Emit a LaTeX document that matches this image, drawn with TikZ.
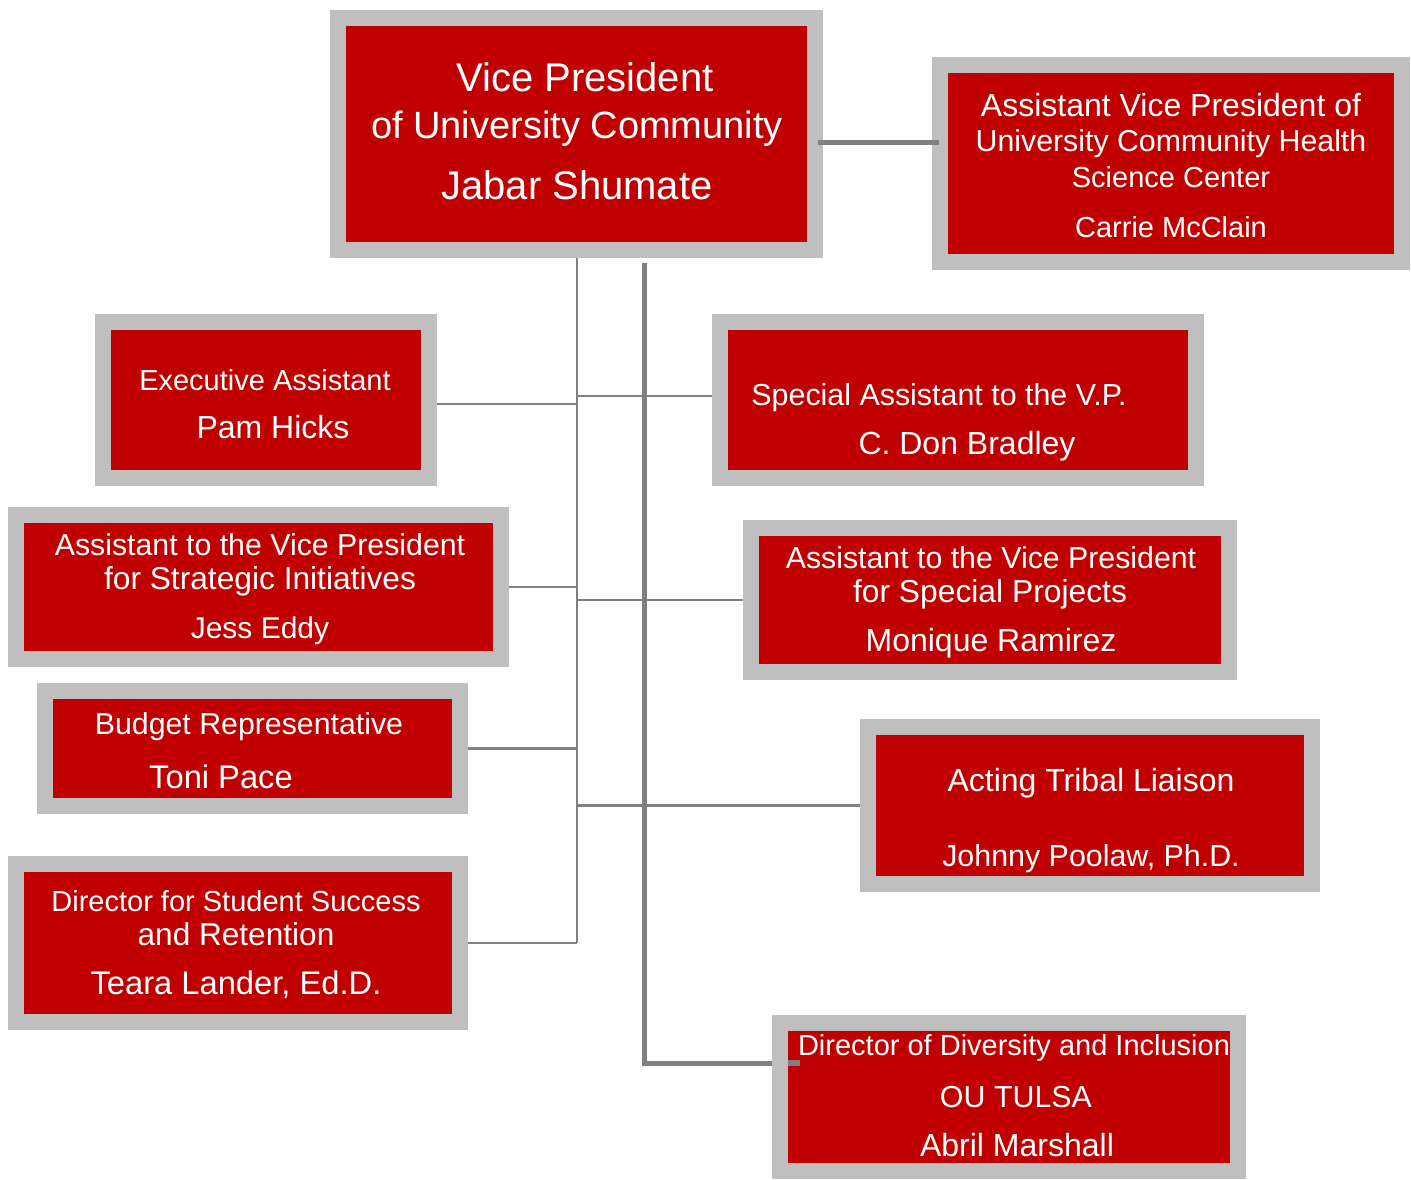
\documentclass[tikz,border=0pt]{standalone}
\usepackage{fontspec}
\setmainfont{Liberation Sans}
\usetikzlibrary{backgrounds}
\definecolor{boxred}{HTML}{C00000}
\definecolor{boxgray}{HTML}{BFBFBF}
\definecolor{linegray}{HTML}{808080}
\tikzset{
  orgbox/.style={draw=boxgray, fill=boxred, line width=16pt, inner sep=0pt, rectangle},
  txt/.style={text=white, inner sep=0pt, anchor=base, font=\fontsize{#1}{#1}\selectfont},
  txt/.default=29,
  thin/.style={draw=linegray, line width=2.5pt},
  thick/.style={draw=linegray, line width=5pt}
}
\begin{document}
\begin{tikzpicture}[x=1pt,y=-1pt]
\useasboundingbox (0,0) rectangle (1411,1180);

% boxes
\node[orgbox, minimum width=477pt, minimum height=232pt] (vp) at (576.5,134) {};
\node[orgbox, minimum width=462pt, minimum height=197pt] (avp) at (1171,163.5) {};
\node[orgbox, minimum width=326pt, minimum height=156pt] (exec) at (266,400) {};
\node[orgbox, minimum width=476pt, minimum height=156pt] (spec) at (958,400) {};
\node[orgbox, minimum width=485pt, minimum height=144pt] (strat) at (258.5,587) {};
\node[orgbox, minimum width=478pt, minimum height=144pt] (proj) at (990,600) {};
\node[orgbox, minimum width=415pt, minimum height=115pt] (budget) at (252.5,748.5) {};
\node[orgbox, minimum width=444pt, minimum height=157pt] (tribal) at (1090,805.5) {};
\node[orgbox, minimum width=444pt, minimum height=158pt] (dir) at (238,943) {};
\node[orgbox, minimum width=458pt, minimum height=148pt] (div) at (1009,1097) {};

% connectors
\coordinate (s0) at (577,250);
\coordinate (s1) at (577,943);
\coordinate (t0) at (644,263);
\coordinate (t1) at (644,1063);
\coordinate (h0) at (0,143);
\begin{pgfonlayer}{background}
  \fill[white] (0,0) rectangle (1411,1180);
  \draw[thin] (s0) -- (s1);
  \draw[thin] ([yshift=-4pt]exec.east) -- ([yshift=-4pt]exec.east -| s0);
  \draw[thin] ([yshift=4pt]spec.west -| s0) -- ([yshift=4pt]spec.west);
  \draw[thin] (strat.east) -- (strat.east -| s0);
  \draw[thin] (proj.west -| s0) -- (proj.west);
  \draw[thin] (budget.east) -- (budget.east -| s0);
  \draw[thin] (tribal.west -| s0) -- (tribal.west);
  \draw[thin] (dir.east) -- (s1);
  \draw[thick] (t0) -- (t1) -- (div.west |- t1);
\end{pgfonlayer}
\draw[thick] ([xshift=-5pt]vp.east |- h0) -- ([xshift=7pt]avp.west |- h0);
\draw[thick, line width=6pt] ([xshift=16pt]div.west |- t1) -- ([xshift=28pt]div.west |- t1);

% texts
\node[txt=40] (vp1) at (585,92) {Vice President};
\node[txt=38] (vp2) at (577,139) {of University Community};
\node[txt=40] (vp3) at (577,199) {Jabar Shumate};

\node[txt=32] (avp1) at (1171,117) {Assistant Vice President of};
\node[txt=30.3] (avp2) at (1171,152) {University Community Health};
\node[txt] (avp3) at (1171,187) {Science Center};
\node[txt] (avp4) at (1171,237) {Carrie McClain};

\node[txt] (exec1) at (265,390) {Executive Assistant};
\node[txt=32] (exec2) at (273,438) {Pam Hicks};

\node[txt=30.4] (spec1) at (939,405) {Special Assistant to the V.P.};
\node[txt=32] (spec2) at (967,454) {C. Don Bradley};

\node[txt=30.3] (strat1) at (260,555) {Assistant to the Vice President};
\node[txt=31.7] (strat2) at (260,589) {for Strategic Initiatives};
\node[txt=30] (strat3) at (260,638) {Jess Eddy};

\node[txt=30.3] (proj1) at (991,568) {Assistant to the Vice President};
\node[txt=31.8] (proj2) at (990,602) {for Special Projects};
\node[txt=32] (proj3) at (991,651) {Monique Ramirez};

\node[txt=30.3] (budget1) at (249,734) {Budget Representative};
\node[txt=32.7] (budget2) at (221,788) {Toni Pace};

\node[txt=32] (tribal1) at (1091,791) {Acting Tribal Liaison};
\node[txt=30.4] (tribal2) at (1091,866) {Johnny Poolaw, Ph.D.};

\node[txt] (dir1) at (236,911) {Director for Student Success};
\node[txt=31.6] (dir2) at (236,945) {and Retention};
\node[txt=32.7] (dir3) at (236,994) {Teara Lander, Ed.D.};

\node[txt] (div1) at (1014,1055) {Director of Diversity and Inclusion};
\node[txt=30.4] (div2) at (1016,1107) {OU TULSA};
\node[txt=32] (div3) at (1017,1156) {Abril Marshall};
\end{tikzpicture}
\end{document}
